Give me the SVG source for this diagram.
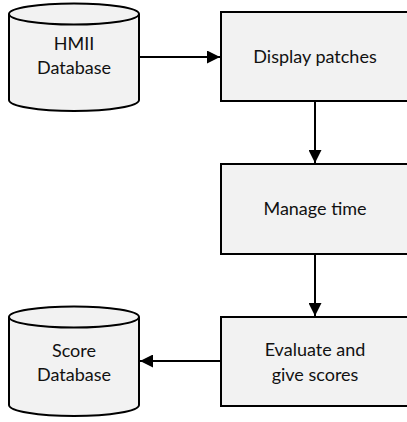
<svg xmlns="http://www.w3.org/2000/svg" width="407" height="422" viewBox="0 0 407 422">
<style>
.shape{fill:#f2f2f2;stroke:#000;stroke-width:2}
.lbl{font-family:Lato,"Liberation Sans",sans-serif;font-size:18px;fill:#111;text-anchor:middle}
.conn{stroke:#000;stroke-width:2;fill:none}
</style>
<defs>
<marker id="arrh" viewBox="0 0 10 10" refX="10" refY="5" markerWidth="13" markerHeight="13" markerUnits="userSpaceOnUse" orient="auto">
<path d="M0,0 L10,5 L0,10 Z" fill="#000"/>
</marker>
</defs>
<g id="hmii-db">
<path class="shape" d="M9,14 A65,10.5 0 0 1 139,14 L139,100 A65,11 0 0 1 9,100 Z"/>
<path class="conn" d="M9,14 A65,10.5 0 0 0 139,14"/>
<text class="lbl" x="74" y="50">HMII</text>
<text class="lbl" x="74" y="74">Database</text>
</g>
<g id="display">
<rect class="shape" x="221" y="12" width="188" height="89"/>
<text class="lbl" x="315" y="63">Display patches</text>
</g>
<g id="manage">
<rect class="shape" x="221" y="164" width="188" height="90"/>
<text class="lbl" x="315" y="215">Manage time</text>
</g>
<g id="evaluate">
<rect class="shape" x="221" y="317" width="188" height="89"/>
<text class="lbl" x="315" y="356">Evaluate and</text>
<text class="lbl" x="315" y="381">give scores</text>
</g>
<g id="score-db">
<path class="shape" d="M9,317 A65,10.5 0 0 1 139,317 L139,405 A65,11 0 0 1 9,405 Z"/>
<path class="conn" d="M9,317 A65,10.5 0 0 0 139,317"/>
<text class="lbl" x="74" y="357">Score</text>
<text class="lbl" x="74" y="381">Database</text>
</g>
<g id="connectors">
<line class="conn" x1="139" y1="57" x2="220" y2="57" marker-end="url(#arrh)"/>
<line class="conn" x1="315" y1="101" x2="315" y2="163" marker-end="url(#arrh)"/>
<line class="conn" x1="315" y1="254" x2="315" y2="316" marker-end="url(#arrh)"/>
<line class="conn" x1="221" y1="361" x2="140" y2="361" marker-end="url(#arrh)"/>
</g>
</svg>
